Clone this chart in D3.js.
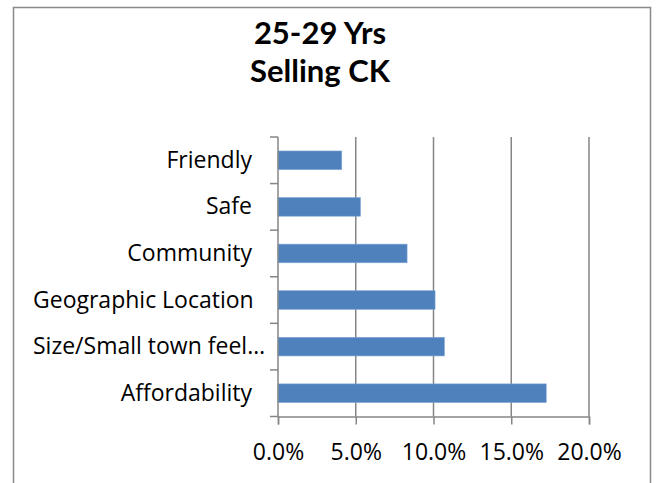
<!DOCTYPE html>
<html>
<head>
<meta charset="utf-8">
<script src="https://cdn.jsdelivr.net/npm/d3@7"></script>
<style>
  body { margin: 0; background: #fff; }
  svg { display: block; }
  svg text { font-family: "Open Sans", Lato, sans-serif; fill: #000; }
  svg text.title { font-family: Lato, "Open Sans", sans-serif; }
</style>
</head>
<body>
<div id="plot"></div>
<script>
// chart data
const categories = ["Friendly", "Safe", "Community", "Geographic Location", "Size/Small town feel…", "Affordability"];
const values = [0.041, 0.053, 0.083, 0.101, 0.107, 0.1725];
const xTicks = [0, 0.05, 0.10, 0.15, 0.20];
const titleLines = ["25-29 Yrs", "Selling CK"];

const w = 659;
const h = 483;
const margin = {top: 137, left: 278};
const innerWidth = 589 - margin.left;
const innerHeight = 416.5 - margin.top;

const svg = d3.select("div#plot")
    .append("svg")
    .attr("width", w)
    .attr("height", h);

// outer chart border (bottom edge lies below the visible area)
svg.append("path")
    .attr("d", `M13.5,${h} V7.5 H650.5 V${h}`)
    .attr("fill", "none")
    .attr("stroke", "#898989")
    .attr("stroke-width", 1.5);

svg.append("g")
    .selectAll("text")
    .data(titleLines)
  .enter().append("text")
    .attr("class", "title")
    .attr("x", 320)
    .attr("y", (d, i) => 44 + i * 38)
    .attr("text-anchor", "middle")
    .style("font-size", "31px")
    .style("font-weight", "bold")
    .text(d => d);

const xScale = d3.scaleLinear()
    .domain([0, 0.20])
    .range([0, innerWidth]);

const yScale = d3.scaleBand()
    .domain(categories)
    .range([0, innerHeight])
    .paddingInner(0.6)
    .paddingOuter(0.3);

const g = svg.append("g")
    .attr("transform", `translate(${margin.left}, ${margin.top})`);

// vertical gridlines
g.append("g")
    .selectAll("line")
    .data(xTicks.slice(1))
  .enter().append("line")
    .attr("x1", d => xScale(d))
    .attr("x2", d => xScale(d))
    .attr("y1", 0)
    .attr("y2", innerHeight)
    .attr("stroke", "#868686")
    .attr("stroke-width", 1.5);

// bars
g.append("g")
    .selectAll("rect")
    .data(values)
  .enter().append("rect")
    .attr("x", 0)
    .attr("y", (d, i) => yScale(categories[i]))
    .attr("width", d => xScale(d))
    .attr("height", yScale.bandwidth())
    .attr("fill", "#4f81bd")
    .attr("stroke", "#7fa6d6")
    .attr("stroke-width", 0.6);

// x axis
const xAxis = d3.axisBottom(xScale)
    .tickValues(xTicks)
    .tickSize(8)
    .tickPadding(10)
    .tickFormat(d3.format(".1%"));

const xg = g.append("g")
    .attr("transform", `translate(0, ${innerHeight})`)
    .call(xAxis);
xg.select(".domain").attr("stroke", "#868686").attr("stroke-width", 1.5);
xg.selectAll(".tick line").attr("stroke", "#868686").attr("stroke-width", 1.5);
xg.selectAll(".tick text")
    .style("font-size", "23px")
    .attr("fill", "#000")
    .attr("dy", null)
    .attr("y", 43.5);

// y axis with ticks between categories
const step = innerHeight / categories.length;
g.append("line")
    .attr("x1", 0).attr("x2", 0)
    .attr("y1", 0).attr("y2", innerHeight)
    .attr("stroke", "#868686")
    .attr("stroke-width", 1.5);
g.append("g")
    .selectAll("line")
    .data(d3.range(categories.length + 1))
  .enter().append("line")
    .attr("x1", -8).attr("x2", 0)
    .attr("y1", i => i * step).attr("y2", i => i * step)
    .attr("stroke", "#868686")
    .attr("stroke-width", 1.5);

// category labels
const labels = g.append("g")
    .selectAll("text")
    .data(categories)
  .enter().append("text")
    .attr("x", -26)
    .attr("y", d => yScale(d) + yScale.bandwidth() / 2 + 7.5)
    .attr("text-anchor", "end")
    .style("font-size", "23px")
    .text(d => d);

// long truncated labels start at the left edge instead
labels.each(function() {
  if (this.getComputedTextLength() > margin.left - 26 - 33) {
    d3.select(this).attr("text-anchor", "start").attr("x", 33 - margin.left);
  }
});
</script>
</body>
</html>
